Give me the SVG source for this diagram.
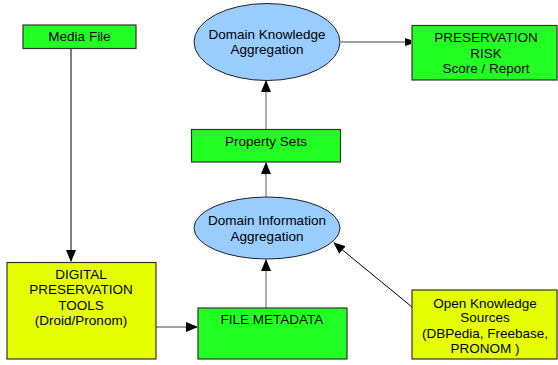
<svg xmlns="http://www.w3.org/2000/svg" width="558" height="365" viewBox="0 0 558 365">
<style>
text{font-family:"Liberation Sans",Arial,sans-serif;font-size:13.5px;fill:#000;text-anchor:middle}
.g{fill:#22ff22;stroke:#333;stroke-width:1.2}
.y{fill:#e6ff00;stroke:#333;stroke-width:1.2}
.b{fill:#99ccff;stroke:#222;stroke-width:1}
.c{fill:none;stroke:#808080;stroke-width:1.3}
.k{fill:none;stroke:#000;stroke-width:1}
</style>
<defs>
<marker id="a" markerWidth="12" markerHeight="10" refX="11" refY="5" orient="auto" markerUnits="userSpaceOnUse">
<path d="M0,0 L12,5 L0,10 Z" fill="#000"/>
</marker>
<marker id="s" markerWidth="6" markerHeight="10" refX="6" refY="5" orient="auto" markerUnits="userSpaceOnUse">
<path d="M0,1 L6,3 L6,7 L0,9 Z" fill="#000"/>
</marker>
</defs>
<g id="connectors">
<line class="k" x1="71" y1="48" x2="71" y2="261" marker-end="url(#a)"/>
<line class="c" x1="152" y1="327" x2="197" y2="327" marker-end="url(#a)"/>
<line class="c" x1="266" y1="308" x2="266" y2="260" marker-end="url(#a)"/>
<line class="c" x1="266" y1="197" x2="266" y2="163" marker-end="url(#a)"/>
<line class="c" x1="266" y1="129" x2="266" y2="81" marker-end="url(#a)"/>
<line class="c" x1="341" y1="42" x2="411" y2="42" marker-end="url(#s)"/>
<line class="k" x1="412" y1="307" x2="334" y2="243" marker-end="url(#a)"/>
</g>
<g id="media-file">
<rect class="g" x="23" y="25" width="113" height="23.5"/>
<text x="79.5" y="41">Media File</text>
</g>
<g id="domain-knowledge">
<ellipse class="b" cx="267" cy="42" rx="73" ry="38.5"/>
<text x="267" y="39">Domain Knowledge</text>
<text x="267" y="54">Aggregation</text>
</g>
<g id="preservation-risk">
<rect class="g" x="412" y="25.5" width="145" height="54.5"/>
<text x="486" y="42">PRESERVATION</text>
<text x="486" y="58">RISK</text>
<text x="486" y="73">Score / Report</text>
</g>
<g id="property-sets">
<rect class="g" x="191.5" y="129.5" width="149" height="32.5"/>
<text x="266" y="146">Property Sets</text>
</g>
<g id="domain-information">
<ellipse class="b" cx="267" cy="228" rx="73" ry="31"/>
<text x="267" y="225">Domain Information</text>
<text x="267" y="241">Aggregation</text>
</g>
<g id="digital-preservation-tools">
<rect class="y" x="7" y="262.5" width="149" height="96.5"/>
<text x="81" y="279">DIGITAL</text>
<text x="81" y="294">PRESERVATION</text>
<text x="81" y="310">TOOLS</text>
<text x="81" y="325">(Droid/Pronom)</text>
</g>
<g id="file-metadata">
<rect class="g" x="198" y="308" width="149" height="51"/>
<text x="272" y="324">FILE METADATA</text>
</g>
<g id="open-knowledge-sources">
<rect class="y" x="412" y="290" width="145" height="69"/>
<text x="485" y="308">Open Knowledge</text>
<text x="485" y="322">Sources</text>
<text x="485" y="338">(DBPedia, Freebase,</text>
<text x="485" y="353">PRONOM )</text>
</g>
</svg>
